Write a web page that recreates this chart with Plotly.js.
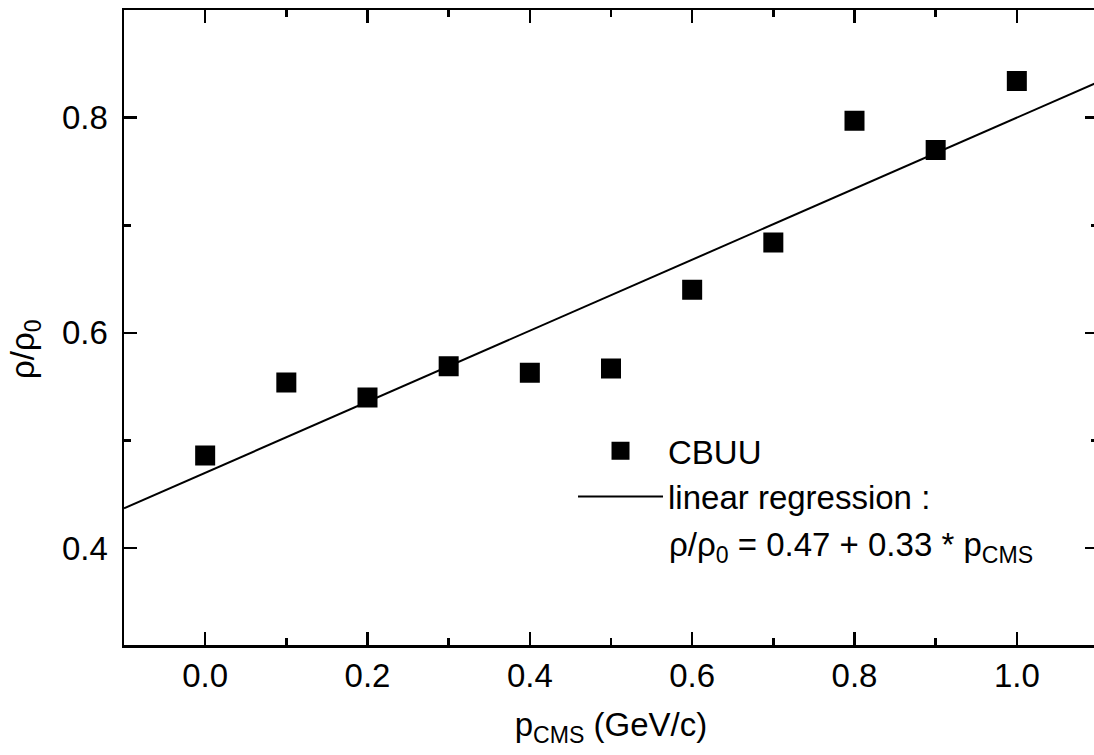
<!DOCTYPE html>
<html>
<head>
<meta charset="utf-8">
<script src="https://cdn.plot.ly/plotly-3.0.1.min.js"></script>
<style>
html,body{margin:0;padding:0;overflow:hidden;background:#fff;}
#chart{width:1100px;height:755px;}
</style>
</head>
<body>
<div id="chart"></div>
<script>
// Data
const pCMS = [0.0, 0.1, 0.2, 0.3, 0.4, 0.5, 0.6, 0.7, 0.8, 0.9, 1.0];
const rhoRatio = [0.486, 0.554, 0.540, 0.569, 0.563, 0.567, 0.640, 0.684, 0.797, 0.770, 0.834];
const fitIntercept = 0.47;
const fitSlope = 0.33;
const fitX = [-0.1, 1.1];
const fitY = fitX.map(x => fitIntercept + fitSlope * x);
const xTickVals = [0.0, 0.2, 0.4, 0.6, 0.8, 1.0];
const yTickVals = [0.4, 0.6, 0.8];

const FONT = "Liberation Sans, Arial, Helvetica, sans-serif";
const FS = 33;

const traces = [
  {
    x: pCMS, y: rhoRatio, type: 'scatter', mode: 'markers', name: 'CBUU',
    marker: {symbol: 'square', size: 18, color: '#000', line: {width: 2, color: '#000'}},
    cliponaxis: false
  },
  {
    x: fitX, y: fitY, type: 'scatter', mode: 'lines', name: 'linear regression :',
    line: {color: '#000', width: 2}
  }
];

const axisCommon = {
  showgrid: false, zeroline: false, showline: true, linecolor: '#000', linewidth: 2.5,
  mirror: 'ticks', ticks: 'inside', ticklen: 13, tickwidth: 2.5, tickcolor: '#000',
  tickfont: {family: FONT, size: FS, color: '#000'},
  minor: {ticks: 'inside', ticklen: 7, tickwidth: 2.5, tickcolor: '#000'}
};

const layout = {
  width: 1100, height: 755,
  margin: {l: 124, r: 2, t: 10, b: 110},
  paper_bgcolor: '#fff', plot_bgcolor: '#fff',
  font: {family: FONT, size: FS, color: '#000'},
  showlegend: true,
  legend: {
    x: 0.461, y: 0.35, xanchor: 'left', yanchor: 'top',
    bgcolor: 'rgba(0,0,0,0)', borderwidth: 0,
    itemwidth: 85, font: {family: FONT, size: FS, color: '#000'}
  },
  xaxis: Object.assign({}, axisCommon, {
    range: [-0.1, 1.1], tickvals: xTickVals, tickformat: '.1f',
    minor: Object.assign({}, axisCommon.minor, {dtick: 0.1, tick0: 0}),
    ticklabelstandoff: 0,
    title: {text: 'p<sub>CMS</sub> (GeV/c)', font: {family: FONT, size: FS, color: '#000'}, standoff: 20}
  }),
  yaxis: Object.assign({}, axisCommon, {
    range: [0.31, 0.9], tickvals: yTickVals, tickformat: '.1f',
    minor: Object.assign({}, axisCommon.minor, {dtick: 0.1, tick0: 0}),
    ticklabelstandoff: 7
  }),
  annotations: [
    {
      xref: 'paper', yref: 'paper', x: 0.558, y: 0.155, xanchor: 'left', yanchor: 'middle',
      text: 'ρ/ρ<sub>0</sub> = 0.47 + 0.33 * p<sub>CMS</sub>', showarrow: false,
      font: {family: FONT, size: FS, color: '#000'}
    },
    {
      xref: 'paper', yref: 'paper', x: -99 / 974, y: (645 - 349) / 635, xanchor: 'center', yanchor: 'middle',
      text: 'ρ/ρ<sub>0</sub>', textangle: -90, showarrow: false,
      font: {family: FONT, size: FS, color: '#000'}
    }
  ]
};

Plotly.newPlot('chart', traces, layout, {displayModeBar: false, staticPlot: true});
</script>
</body>
</html>
